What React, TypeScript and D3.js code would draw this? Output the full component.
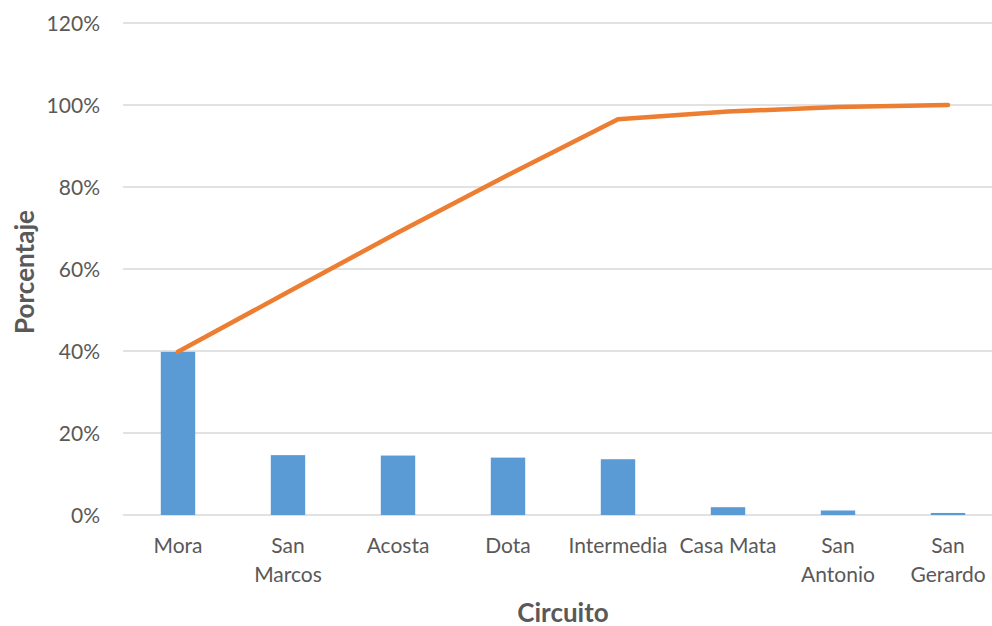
import React from "react";
import * as d3 from "d3";

// Circuit names (each entry split into its label lines)
const circuitos: string[] = [
  "Mora",
  "San Marcos",
  "Acosta",
  "Dota",
  "Intermedia",
  "Casa Mata",
  "San Antonio",
  "San Gerardo",
];
const labelLines: string[][] = [
  ["Mora"],
  ["San", "Marcos"],
  ["Acosta"],
  ["Dota"],
  ["Intermedia"],
  ["Casa Mata"],
  ["San", "Antonio"],
  ["San", "Gerardo"],
];
// Share of each circuit (%)
const porcentaje: number[] = [39.8, 14.6, 14.5, 14.0, 13.6, 1.9, 1.1, 0.5];
const yTicks: number[] = [0, 20, 40, 60, 80, 100, 120];

const W = 992;
const H = 626;
const FONT = "Lato, 'Open Sans', sans-serif";
const TEXT = "#595959";

export default function App() {
  const acumulado = d3.cumsum(porcentaje);

  const x = d3
    .scaleBand<string>()
    .domain(circuitos)
    .range([123, 1003])
    .paddingInner(0.69)
    .paddingOuter(0.345);
  const y = d3.scaleLinear().domain([0, 120]).range([515, 23]);

  const cx = (c: string) => (x(c) as number) + x.bandwidth() / 2;

  const line = d3
    .line<number>()
    .x((_, i) => cx(circuitos[i]))
    .y((d) => y(d));

  return (
    <svg
      width={W}
      height={H}
      style={{ position: "absolute", left: 0, top: 0, background: "#fff" }}
    >
      {yTicks.map((t) => (
        <g key={t}>
          <line
            x1={123}
            x2={1003}
            y1={y(t)}
            y2={y(t)}
            stroke="#D9D9D9"
            strokeWidth={1.3}
          />
          <text
            x={100}
            y={y(t)}
            dy="0.36em"
            textAnchor="end"
            fontFamily={FONT}
            fontSize={21}
            fill={TEXT}
          >
            {t}%
          </text>
        </g>
      ))}

      {porcentaje.map((v, i) => (
        <rect
          key={circuitos[i]}
          x={cx(circuitos[i]) - 17.2}
          y={y(v)}
          width={34.4}
          height={y(0) - y(v)}
          fill="#5B9BD5"
        />
      ))}

      <path
        d={line(acumulado) ?? ""}
        fill="none"
        stroke="#ED7D31"
        strokeWidth={4.5}
        strokeLinecap="round"
        strokeLinejoin="round"
      />

      {labelLines.map((lines, i) => (
        <text
          key={circuitos[i]}
          x={cx(circuitos[i])}
          y={553}
          textAnchor="middle"
          fontFamily={FONT}
          fontSize={21}
          fill={TEXT}
        >
          {lines.map((ln, j) => (
            <tspan key={j} x={cx(circuitos[i])} dy={j === 0 ? 0 : 29}>
              {ln}
            </tspan>
          ))}
        </text>
      ))}

      <text
        x={563}
        y={622}
        textAnchor="middle"
        fontFamily={FONT}
        fontSize={26}
        fontWeight="bold"
        fill={TEXT}
      >
        Circuito
      </text>
      <text
        transform={`translate(34, 272) rotate(-90)`}
        textAnchor="middle"
        fontFamily={FONT}
        fontSize={26}
        fontWeight="bold"
        fill={TEXT}
      >
        Porcentaje
      </text>
    </svg>
  );
}
